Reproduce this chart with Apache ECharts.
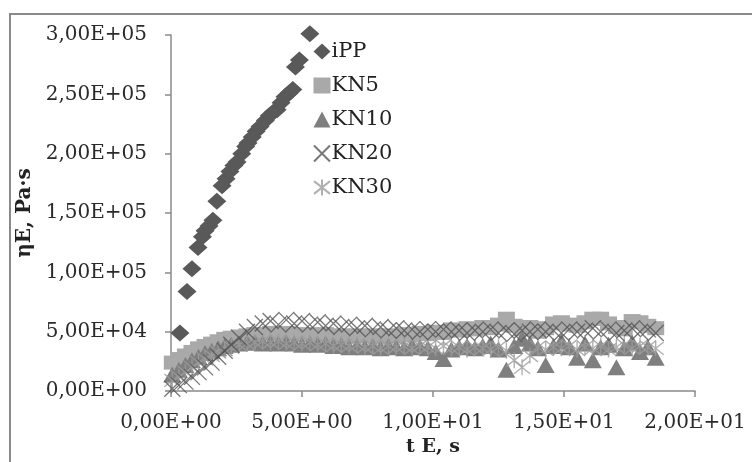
<!DOCTYPE html>
<html>
<head>
<meta charset="utf-8">
<script src="https://cdn.jsdelivr.net/npm/echarts@6/dist/echarts.min.js"></script>
<style>html,body{margin:0;padding:0;background:#fff}#c{width:752px;height:462px}</style>
</head>
<body>
<div id="c"></div>
<script>
const seriesNames = ['iPP', 'KN5', 'KN10', 'KN20', 'KN30'];
const xTicks = [0, 5, 10, 15, 20];
const yTicks = [0, 50000, 100000, 150000, 200000, 250000, 300000];

const tIPP = [0.34,0.61,0.8,1.03,1.2,1.3,1.45,1.6,1.75,1.95,2.1,2.25,2.4,2.52,2.7,2.85,2.94,3.1,3.25,3.4,3.6,3.75,3.9,4.05,4.2,4.35,4.5,4.65,4.75,4.9,5.3];
const vIPP = [49000,84000,103000,121000,130000,135000,139000,144000,160000,173000,179000,185000,190000,193000,200000,206000,209000,214000,219000,223000,228000,232000,235000,237000,243000,248000,251000,254000,273000,279000,301000];

const tKN = [0.05,0.3,0.55,0.8,1.05,1.3,1.55,1.8,2.05,2.3,
  2.6,2.9,3.2,3.5,3.8,4.1,4.4,4.7,5.0,5.3,
  5.6,5.9,6.2,6.5,6.8,7.1,7.4,7.7,8.0,8.3,
  8.6,8.9,9.2,9.5,9.8,10.1,10.4,10.7,11.0,11.3,
  11.6,11.9,12.2,12.5,12.8,13.1,13.4,13.7,14.0,14.3,
  14.6,14.9,15.2,15.5,15.8,16.1,16.4,16.7,17.0,17.3,
  17.6,17.9,18.2,18.5];

const vKN5 = [24000,27000,30000,33000,36000,38000,40000,42000,44000,45000,
  46000,47000,48000,48000,49000,48000,49000,48000,47000,48000,
  47000,48000,46000,47000,46000,47000,46000,47000,45000,47000,
  46000,48000,47000,49000,48000,50000,49000,52000,51000,53000,
  52000,54000,53000,56000,61000,55000,52000,54000,50000,53000,
  57000,58000,56000,55000,58000,61000,61000,57000,54000,52000,
  59000,58000,55000,53000];

const vKN10 = [14000,18000,22000,26000,29000,32000,34000,36000,38000,39000,
  40000,41000,41000,40000,41000,40000,41000,40000,39000,40000,
  39000,40000,38000,39000,37000,38000,37000,38000,36000,38000,
  37000,36000,38000,37000,36000,33000,27000,35000,37000,38000,
  36000,38000,40000,35000,18000,38000,44000,40000,36000,22000,
  38000,42000,37000,28000,40000,26000,37000,39000,20000,36000,
  41000,33000,37000,28000];

const vKN20 = [2000,5000,8000,12000,16000,20000,24000,29000,34000,39000,
  45000,50000,54000,57000,59000,56000,60000,57000,59000,56000,
  58000,55000,57000,54000,56000,53000,55000,52000,54000,51000,
  53000,51000,52000,50000,52000,50000,52000,50000,51000,49000,
  51000,50000,52000,49000,51000,48000,51000,50000,52000,50000,
  51000,49000,52000,50000,51000,53000,50000,52000,49000,51000,
  53000,50000,52000,49000];

const vKN30 = [9000,12000,16000,20000,24000,27000,30000,33000,35000,37000,
  39000,40000,41000,42000,41000,42000,40000,41000,40000,41000,
  39000,40000,38000,39000,38000,39000,37000,38000,36000,38000,
  37000,38000,36000,38000,37000,36000,38000,36000,37000,35000,
  37000,36000,35000,37000,34000,26000,20000,30000,37000,35000,
  37000,36000,38000,35000,37000,36000,38000,35000,37000,39000,
  36000,38000,37000,36000];

function pairs(t, v) { return t.map((x, i) => [x, v[i]]); }
function sci(v) {
  const s = Number(v).toExponential(2).split('e');
  let m = s[0].replace('.', ',');
  let ex = parseInt(s[1], 10);
  const sign = ex < 0 ? '-' : '+';
  ex = Math.abs(ex);
  return m + 'E' + sign + (ex < 10 ? '0' + ex : '' + ex);
}

const crossPath = 'path://M0 0 L10 10 M10 0 L0 10';
const starPath = 'path://M0 1 L10 9 M10 1 L0 9 M5 0 L5 10';
const font = 'DejaVu Serif';

const chart = echarts.init(document.getElementById('c'), null, {renderer: 'canvas'});
chart.setOption({
  backgroundColor: '#fff',
  animation: false,
  graphic: [{
    type: 'polyline', silent: true,
    shape: {points: [[10, 462], [10, 14], [752, 14]]},
    style: {stroke: '#8a8a8a', lineWidth: 2, fill: null}
  }],
  grid: {left: 171, right: 57, top: 35, bottom: 69, containLabel: false},
  legend: {
    data: seriesNames,
    orient: 'vertical',
    left: 308, top: 36,
    itemWidth: 17, itemHeight: 16, itemGap: 13,
    textStyle: {fontFamily: font, fontSize: 21, color: '#222', padding: [0, 0, 0, -4]}
  },
  xAxis: {
    type: 'value', min: xTicks[0], max: xTicks[xTicks.length - 1], interval: 5,
    name: 't E, s', nameLocation: 'middle', nameGap: 46,
    nameTextStyle: {fontFamily: font, fontSize: 19, fontWeight: 'bold', color: '#222'},
    axisLine: {show: true, lineStyle: {color: '#8a8a8a', width: 1.5}},
    axisTick: {show: true, inside: false, length: 6, lineStyle: {color: '#8a8a8a', width: 1.5}},
    axisLabel: {formatter: sci, fontFamily: font, fontSize: 20, color: '#2a2a2a', margin: 22},
    splitLine: {show: false}
  },
  yAxis: {
    type: 'value', min: yTicks[0], max: yTicks[yTicks.length - 1], interval: 50000,
    name: 'ηE, Pa·s', nameLocation: 'middle', nameGap: 130,
    nameTextStyle: {fontFamily: font, fontSize: 20, fontWeight: 'bold', color: '#222'},
    axisLine: {show: true, lineStyle: {color: '#8a8a8a', width: 1.5}},
    axisTick: {show: true, inside: false, length: 6, lineStyle: {color: '#8a8a8a', width: 1.5}},
    axisLabel: {formatter: sci, fontFamily: font, fontSize: 20, color: '#2a2a2a', margin: 24},
    splitLine: {show: false}
  },
  series: [
    {name: 'KN5', type: 'scatter', symbol: 'rect', symbolSize: [17, 14], clip: false,
     itemStyle: {color: '#a9a9a9', opacity: 1}, data: pairs(tKN, vKN5), z: 2},
    {name: 'KN10', type: 'scatter', symbol: 'triangle', symbolSize: [18, 16], clip: false,
     itemStyle: {color: '#7f7f7f', opacity: 1}, data: pairs(tKN, vKN10), z: 3},
    {name: 'KN30', type: 'scatter', symbol: starPath, symbolSize: 16, clip: false,
     itemStyle: {color: 'rgba(0,0,0,0)', borderColor: '#9c9c9c', borderWidth: 1.4}, data: pairs(tKN, vKN30), z: 4},
    {name: 'KN20', type: 'scatter', symbol: crossPath, symbolSize: 16, clip: false,
     itemStyle: {color: 'rgba(0,0,0,0)', borderColor: '#555555', borderWidth: 1.3}, data: pairs(tKN, vKN20), z: 5},
    {name: 'iPP', type: 'scatter', symbol: 'diamond', symbolSize: [19, 17], clip: false,
     itemStyle: {color: '#595959', opacity: 1}, data: pairs(tIPP, vIPP), z: 6}
  ]
});
</script>
</body>
</html>
